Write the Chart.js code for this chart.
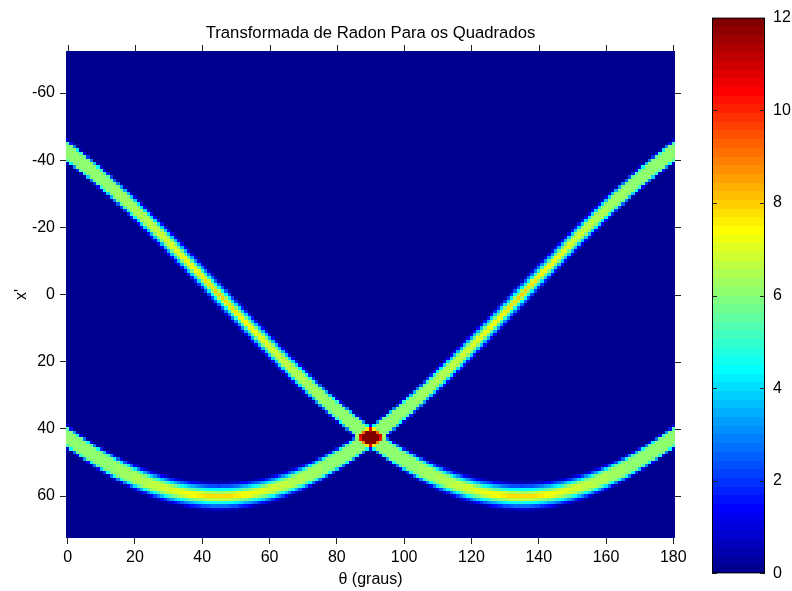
<!DOCTYPE html>
<html>
<head>
<meta charset="utf-8">
<title>Transformada de Radon Para os Quadrados</title>
<script src="https://cdn.jsdelivr.net/npm/chart.js@4.4.1/dist/chart.umd.min.js"></script>
<style>
  body { margin: 0; background: #fff; }
  #wrap { position: relative; width: 792px; height: 591px; }
  #radonChart { position: absolute; left: 0; top: 0; }
  #colorbar { position: absolute; left: 700px; top: 0; }
</style>
</head>
<body>
<div id="wrap">
  <canvas id="radonChart" width="700" height="591"></canvas>
  <canvas id="colorbar" width="92" height="591"></canvas>
</div>
<script>
// projection grid: angles in degrees, offsets x' in pixels
const thetaMin = 0, thetaMax = 180;
const xpMin = -72, xpMax = 72;

// axis ticks
const thetaTicks = [0, 20, 40, 60, 80, 100, 120, 140, 160, 180];
const xpTicks = [-60, -40, -20, 0, 20, 40, 60];
const colorTicks = [0, 2, 4, 6, 8, 10, 12];
const colorMin = 0, colorMax = 12;

// the two squares in the source image: centre (x, y) and side length
const squareX = [42.5, -42.5];
const squareY = [42.5, 42.5];
const squareSide = [6, 6];

const fontFamily = "'Liberation Sans', Arial, Helvetica, sans-serif";
const labelFont = { family: fontFamily, size: 16, weight: 'normal' };
const titleFont = { family: fontFamily, size: 16.7, weight: 'normal' };
const tickColor = '#222';

// Radon projections of the squares, every pixel split in four sub-pixels
// and shared linearly between the two nearest x' bins
function radonOfSquares() {
    const nTheta = thetaMax - thetaMin + 1;
    const nXp = xpMax - xpMin + 1;
    const proj = [];
    for (let k = 0; k < nTheta; k++) proj.push(new Float64Array(nXp));

    squareX.forEach((cx, s) => {
        const half = (squareSide[s] - 1) / 2;
        const cy = squareY[s];
        for (let px = cx - half; px <= cx + half + 1e-9; px++) {
            for (let py = cy - half; py <= cy + half + 1e-9; py++) {
                for (const dx of [-0.25, 0.25]) {
                    for (const dy of [-0.25, 0.25]) {
                        const x = px + dx, y = py + dy;
                        for (let k = 0; k < nTheta; k++) {
                            const t = (thetaMin + k) * Math.PI / 180;
                            const r = x * Math.cos(t) + y * Math.sin(t) - xpMin;
                            const lo = Math.floor(r + 1e-12);
                            const d = r - lo;
                            proj[k][lo] += 0.25 * (1 - d);
                            if (lo + 1 < nXp) proj[k][lo + 1] += 0.25 * d;
                        }
                    }
                }
            }
        }
    });
    return proj;
}

// MATLAB style jet colormap
function jet(m) {
    const n = Math.ceil(m / 4);
    const u = [];
    for (let i = 1; i <= n; i++) u.push(i / n);
    for (let i = 1; i < n; i++) u.push(1);
    for (let i = n; i >= 1; i--) u.push(i / n);
    const g0 = Math.ceil(n / 2) - (m % 4 === 1 ? 1 : 0);
    const map = Array.from({ length: m }, () => [0, 0, 0]);
    u.forEach((v, i) => {
        const g = g0 + i, r = g + n, b = g - n;
        if (r >= 0 && r < m) map[r][0] = v;
        if (g >= 0 && g < m) map[g][1] = v;
        if (b >= 0 && b < m) map[b][2] = v;
    });
    return map.map(c => `rgb(${Math.round(c[0] * 255)},${Math.round(c[1] * 255)},${Math.round(c[2] * 255)})`);
}

const jetColors = jet(64);
const radonData = radonOfSquares();

function colorFor(v) {
    const m = jetColors.length;
    let idx = Math.floor((v - colorMin) / (colorMax - colorMin) * m);
    idx = Math.max(0, Math.min(m - 1, idx));
    return jetColors[idx];
}

// paints every (theta, x') cell through the chart scales
const heatmapPlugin = {
    id: 'heatmap',
    beforeDatasetsDraw(chart) {
        const { ctx, chartArea, scales: { x, y } } = chart;
        ctx.save();
        ctx.beginPath();
        ctx.rect(chartArea.left, chartArea.top, chartArea.width, chartArea.height);
        ctx.clip();
        radonData.forEach((col, k) => {
            const th = thetaMin + k;
            const x0 = Math.round(x.getPixelForValue(th - 0.5));
            const x1 = Math.round(x.getPixelForValue(th + 0.5));
            col.forEach((v, j) => {
                const xp = xpMin + j;
                const ya = Math.round(y.getPixelForValue(xp - 0.5));
                const yb = Math.round(y.getPixelForValue(xp + 0.5));
                ctx.fillStyle = colorFor(v);
                ctx.fillRect(x0, Math.min(ya, yb), x1 - x0, Math.abs(yb - ya));
            });
        });
        ctx.restore();
    }
};

// tick marks on the top and right sides as well
const mirrorTicks = {
    id: 'mirrorTicks',
    afterDraw(chart) {
        const { ctx, chartArea: a, scales: { x, y } } = chart;
        ctx.save();
        ctx.strokeStyle = tickColor;
        ctx.lineWidth = 1;
        ctx.beginPath();
        x.ticks.forEach(t => {
            const px = Math.round(x.getPixelForValue(t.value)) + 0.5;
            ctx.moveTo(px, a.top);
            ctx.lineTo(px, a.top - 6);
        });
        y.ticks.forEach(t => {
            const py = Math.round(y.getPixelForValue(t.value)) + 0.5;
            ctx.moveTo(a.right, py);
            ctx.lineTo(a.right + 6, py);
        });
        ctx.stroke();
        ctx.restore();
    }
};

new Chart(document.getElementById('radonChart'), {
    type: 'scatter',
    data: { datasets: [] },
    options: {
        responsive: false,
        animation: false,
        layout: { padding: { left: 0, right: 25, top: 0, bottom: 0 } },
        plugins: {
            legend: { display: false },
            tooltip: { enabled: false },
            title: {
                display: true,
                fullSize: false,
                text: 'Transformada de Radon Para os Quadrados',
                color: '#000',
                font: titleFont,
                padding: { top: 23, bottom: 8 }
            }
        },
        scales: {
            x: {
                type: 'linear',
                min: thetaMin - 0.5,
                max: thetaMax + 0.5,
                afterBuildTicks: s => { s.ticks = thetaTicks.map(v => ({ value: v })); },
                afterFit: s => { s.height = 53; },
                grid: { drawOnChartArea: false, drawTicks: true, tickLength: 6, color: tickColor },
                border: { display: false },
                ticks: { color: '#000', font: labelFont, padding: 4, maxRotation: 0 },
                title: { display: true, text: 'θ (graus)', color: '#000', font: labelFont, padding: { top: 0, bottom: 2 } }
            },
            y: {
                type: 'linear',
                reverse: true,
                min: xpMin - 0.5,
                max: xpMax + 0.5,
                afterBuildTicks: s => { s.ticks = xpTicks.map(v => ({ value: v })); },
                afterFit: s => { s.width = 66; },
                grid: { drawOnChartArea: false, drawTicks: true, tickLength: 6, color: tickColor },
                border: { display: false },
                ticks: { color: '#000', font: labelFont, padding: 5 },
                title: { display: true, text: "x'", color: '#000', font: labelFont, padding: { top: 12, bottom: 0 } }
            }
        }
    },
    plugins: [heatmapPlugin, mirrorTicks]
});

// jet strip with a frame and inward ticks
const colorbarPlugin = {
    id: 'colorbarStrip',
    beforeDatasetsDraw(chart) {
        const { ctx, chartArea: a, scales: { y } } = chart;
        const m = jetColors.length;
        ctx.save();
        jetColors.forEach((c, i) => {
            const v0 = colorMin + i * (colorMax - colorMin) / m;
            const v1 = colorMin + (i + 1) * (colorMax - colorMin) / m;
            const top = Math.round(y.getPixelForValue(v1));
            const bottom = Math.round(y.getPixelForValue(v0));
            ctx.fillStyle = c;
            ctx.fillRect(a.left, top, a.right - a.left, bottom - top);
        });
        ctx.strokeStyle = tickColor;
        ctx.lineWidth = 1;
        ctx.beginPath();
        y.ticks.forEach(t => {
            const py = Math.round(y.getPixelForValue(t.value)) + 0.5;
            ctx.moveTo(a.left, py);
            ctx.lineTo(a.left + 5, py);
            ctx.moveTo(a.right, py);
            ctx.lineTo(a.right - 5, py);
        });
        ctx.stroke();
        ctx.strokeStyle = '#000';
        ctx.strokeRect(a.left + 0.5, a.top + 0.5, a.right - a.left - 1, a.bottom - a.top - 1);
        ctx.restore();
    }
};

new Chart(document.getElementById('colorbar'), {
    type: 'scatter',
    data: { datasets: [] },
    options: {
        responsive: false,
        animation: false,
        layout: { padding: { left: 12, right: 0, top: 14, bottom: 15 } },
        plugins: { legend: { display: false }, tooltip: { enabled: false } },
        scales: {
            x: { type: 'linear', display: false, min: 0, max: 1 },
            y: {
                type: 'linear',
                position: 'right',
                min: colorMin,
                max: colorMax,
                afterBuildTicks: s => { s.ticks = colorTicks.map(v => ({ value: v })); },
                afterFit: s => { s.width = 27; },
                grid: { drawOnChartArea: false, drawTicks: false },
                border: { display: false },
                ticks: { color: '#000', font: labelFont, padding: 8 }
            }
        }
    },
    plugins: [colorbarPlugin]
});
</script>
</body>
</html>
